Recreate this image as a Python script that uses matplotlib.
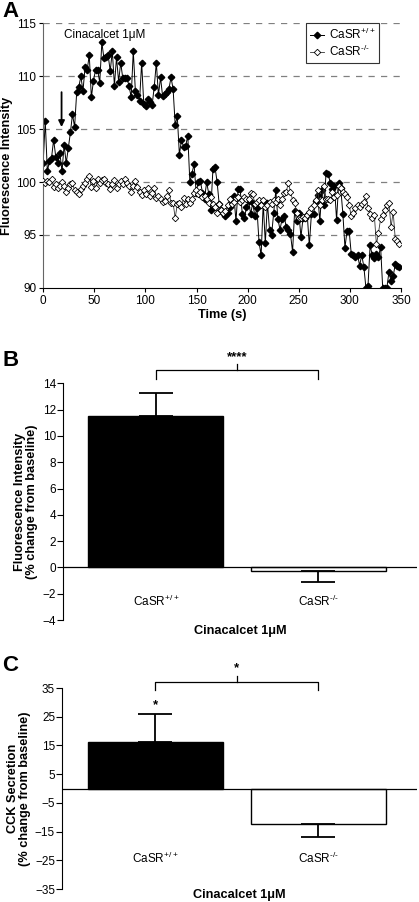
import numpy as np
import matplotlib
matplotlib.use("Agg")
import matplotlib.pyplot as plt

plt.rcParams['font.family'] = ['Liberation Sans', 'DejaVu Sans']

# ---- panel A: time course (sampled every ~2 s)
sample_interval = 2.05
casr_wt = [
    101.8, 105.8, 101.0, 102.0, 102.3, 104.0, 102.4, 101.8, 102.7, 101.0,
    103.5, 101.8, 103.2, 104.7, 106.4, 105.2, 108.5, 109.0, 110.0, 108.6,
    110.9, 110.6, 112.0, 108.0, 109.6, 110.6, 110.6, 109.4, 113.2, 111.7,
    111.8, 112.0, 110.5, 112.4, 109.1, 111.8, 109.5, 111.3, 109.8, 109.8,
    109.8, 109.1, 108.0, 112.4, 108.6, 108.2, 107.7, 111.3, 107.4, 107.2,
    107.9, 107.6, 107.3, 109.0, 111.3, 108.2, 109.9, 108.1, 108.3, 108.5,
    108.8, 109.9, 108.8, 105.4, 106.2, 102.6, 104.0, 103.3, 103.4, 104.4,
    100.0, 100.8, 101.7, 99.0, 100.0, 100.1, 99.0, 98.4, 100.0, 98.9,
    97.4, 101.2, 101.4, 100.0, 97.9, 97.4, 97.1, 96.8, 97.1, 97.6,
    98.2, 98.7, 96.3, 99.3, 99.3, 97.0, 96.6, 97.6, 98.2, 97.0,
    98.0, 96.8, 97.5, 94.3, 93.1, 98.0, 94.2, 98.0, 95.5, 95.0,
    97.1, 99.2, 96.5, 95.5, 96.5, 96.8, 95.7, 95.5, 95.1, 93.4,
    97.3, 96.3, 97.1, 94.8, 96.6, 96.6, 96.9, 94.0, 97.0, 97.0,
    98.2, 98.8, 96.3, 99.2, 97.8, 100.9, 100.8, 99.9, 99.3, 99.6,
    96.4, 99.9, 99.4, 97.0, 93.8, 95.4, 95.4, 93.2, 93.1, 92.9,
    93.1, 92.1, 93.1, 92.0, 90.0, 90.2, 94.0, 93.1, 92.8, 93.2,
    92.9, 93.9, 90.0, 90.0, 90.0, 91.5, 90.6, 91.1, 92.2, 92.1,
    92.0]
casr_ko = [
    100.1, 99.9, 100.1, 100.0, 100.3, 99.5, 99.8, 99.4, 99.6, 100.0,
    99.6, 99.1, 99.4, 99.8, 99.9, 99.2, 99.1, 98.9, 99.3, 99.6,
    99.9, 100.3, 100.6, 99.5, 100.1, 99.4, 100.3, 99.9, 100.2, 100.3,
    99.9, 99.8, 99.3, 99.8, 100.2, 99.4, 99.8, 100.1, 99.8, 100.3,
    99.9, 99.6, 99.1, 99.6, 100.1, 99.5, 99.1, 98.8, 99.2, 98.9,
    99.4, 98.7, 99.0, 99.4, 98.5, 98.7, 98.4, 98.1, 98.2, 98.7,
    99.2, 98.0, 98.0, 96.6, 97.9, 98.0, 97.6, 98.5, 97.9, 98.4,
    98.0, 98.4, 99.0, 99.2, 98.9, 99.1, 98.6, 98.7, 98.4, 98.0,
    98.6, 97.9, 97.6, 97.1, 97.9, 97.4, 97.1, 97.3, 97.8, 98.4,
    97.9, 98.1, 98.5, 98.6, 98.1, 98.3, 98.6, 98.4, 98.4, 99.0,
    98.9, 97.9, 98.1, 98.3, 97.8, 98.3, 97.6, 97.8, 98.1, 97.9,
    98.3, 98.1, 98.4, 97.8, 98.4, 99.0, 99.1, 99.9, 99.1, 98.3,
    98.0, 97.1, 96.6, 96.6, 96.7, 96.6, 96.9, 97.2, 97.5, 97.8,
    98.3, 99.2, 97.8, 98.3, 99.6, 98.4, 98.4, 98.3, 99.1, 98.6,
    98.8, 99.6, 99.4, 99.1, 98.9, 98.6, 97.8, 96.8, 97.1, 97.5,
    97.8, 97.6, 97.9, 98.1, 98.7, 97.5, 97.0, 96.6, 96.9, 94.1,
    95.2, 96.5, 96.9, 97.4, 97.8, 98.0, 95.7, 97.2, 94.6, 94.4,
    94.1]
drug_time = 18

# ---- panels B and C: bar charts
wt_label = 'CaSR$^{\\mathregular{+/+}}$'
ko_label = 'CaSR$^{\\mathregular{\u2010/\u2010}}$'
groups = [wt_label, ko_label]
fluo_mean = [11.5, -0.27]
fluo_err = [1.8, 0.85]
cck_mean = [16.3, -12.5]
cck_err = [9.8, 4.3]

label_font = 8.5
title_font = 9.2
fig = plt.figure(figsize=(4.19, 9.02), dpi=100)

# ------------------------------------------------------------- A
axA = fig.add_axes([0.103, 0.681, 0.854, 0.293])
t_wt = np.arange(len(casr_wt)) * sample_interval
t_ko = np.arange(len(casr_ko)) * sample_interval
for yv in [95, 100, 105, 110, 115]:
    axA.axhline(yv, color='#808080', lw=0.9, ls=(0, (5, 5)), zorder=0)
axA.plot(t_wt, casr_wt, color='black', lw=0.7, marker='D', ms=3.3,
         mfc='black', mec='black', label=wt_label, zorder=2)
axA.plot(t_ko, casr_ko, color='#333333', lw=0.6, marker='D', ms=3.3,
         mfc='white', mec='black', mew=0.6, label=ko_label, zorder=3)
axA.set_xlim(0, 350)
axA.set_ylim(90, 115)
axA.set_xticks(range(0, 351, 50))
axA.set_yticks(range(90, 116, 5))
axA.spines['top'].set_visible(False)
axA.spines['right'].set_visible(False)
axA.spines['left'].set_color('#666666')
axA.tick_params(labelsize=label_font, length=3, width=0.8, pad=2)
axA.set_xlabel('Time (s)', fontsize=title_font, fontweight='bold', labelpad=2)
axA.set_ylabel('Fluorescence Intensity', fontsize=title_font, fontweight='bold')
axA.yaxis.set_label_coords(-0.085, 0.46)
axA.text(60, 113.9, 'Cinacalcet 1μM', fontsize=label_font, ha='center', va='center')
axA.annotate('', xy=(drug_time, 105.2), xytext=(drug_time, 108.5),
             arrowprops=dict(arrowstyle='-|>', color='black', lw=1.3,
                             mutation_scale=9, shrinkA=0, shrinkB=0))
leg = axA.legend(loc='upper right', bbox_to_anchor=(0.918, 0.981),
                 bbox_transform=fig.transFigure, fontsize=label_font,
                 fancybox=False, framealpha=1, edgecolor='#333333',
                 handlelength=1.2, handletextpad=0.4, borderpad=0.3,
                 labelspacing=0.2)
leg.get_frame().set_linewidth(0.8)
fig.text(0.005, 0.999, 'A', fontsize=16, fontweight='bold', va='top')


def bar_panel(ax, means, errs, ylim, yticks, ylabel, text_y):
    pos = [0, 1]
    ax.bar(pos, means, width=0.83, color=['black', 'white'],
           edgecolor='black', linewidth=1.0, zorder=2)
    for p, m, e in zip(pos, means, errs):
        lower = [[0], [e]] if m >= 0 else [[e], [0]]
        ax.errorbar(p, m, yerr=lower, color='black', lw=1.3, capsize=12,
                    capthick=1.3, zorder=3)
    ax.axhline(0, color='black', lw=0.9, zorder=4)
    ax.set_xlim(-0.572, 1.606)
    ax.set_ylim(*ylim)
    ax.set_yticks(yticks)
    ax.set_xticks([])
    for s in ['top', 'right', 'bottom']:
        ax.spines[s].set_visible(False)
    ax.spines['left'].set_bounds(ylim[0], ylim[1])
    ax.tick_params(labelsize=label_font, length=4, width=0.8, pad=1)
    ax.set_ylabel(ylabel, fontsize=title_font, fontweight='bold', labelpad=3,
                  linespacing=1.0)
    for p, g in zip(pos, groups):
        ax.text(p, text_y, g, fontsize=label_font, ha='center', va='center')


def bracket(ax, top, drop, tick, label, label_y):
    ax.plot([0, 0, 1, 1], [top - drop, top, top, top - drop], color='black',
            lw=0.9, clip_on=False, solid_joinstyle='round')
    ax.plot([0.5, 0.5], [top, top + tick], color='black', lw=0.9, clip_on=False)
    ax.text(0.5, label_y, label, fontsize=9.5, ha='center', va='center',
            fontweight='bold')


# ------------------------------------------------------------- B
axB = fig.add_axes([0.150, 0.3126, 0.845, 0.2624])
bar_panel(axB, fluo_mean, fluo_err, (-4, 14), range(-4, 15, 2),
          'Fluorescence Intensity\n(% change from baseline)', -2.55)
bracket(axB, 15.0, 0.7, 0.45, '****', 16.0)
axB.text(0.5, -0.045, 'Cinacalcet 1μM', transform=axB.transAxes,
         fontsize=title_font, fontweight='bold', ha='center', va='center')
fig.text(0.005, 0.612, 'B', fontsize=16, fontweight='bold', va='top')

# ------------------------------------------------------------- C
axC = fig.add_axes([0.148, 0.0144, 0.847, 0.2228])
bar_panel(axC, cck_mean, cck_err, (-35, 35), range(-35, 36, 10),
          'CCK Secretion\n(% change from baseline)', -24.2)
bracket(axC, 37.0, 2.6, 2.2, '*', 42.0)
axC.text(0, 29.0, '*', fontsize=9.5, ha='center', va='center', fontweight='bold')
axC.text(0.5, -0.03, 'Cinacalcet 1μM', transform=axC.transAxes,
         fontsize=title_font, fontweight='bold', ha='center', va='center')
fig.text(0.005, 0.274, 'C', fontsize=16, fontweight='bold', va='top')

fig.savefig('out.png', dpi=100)
